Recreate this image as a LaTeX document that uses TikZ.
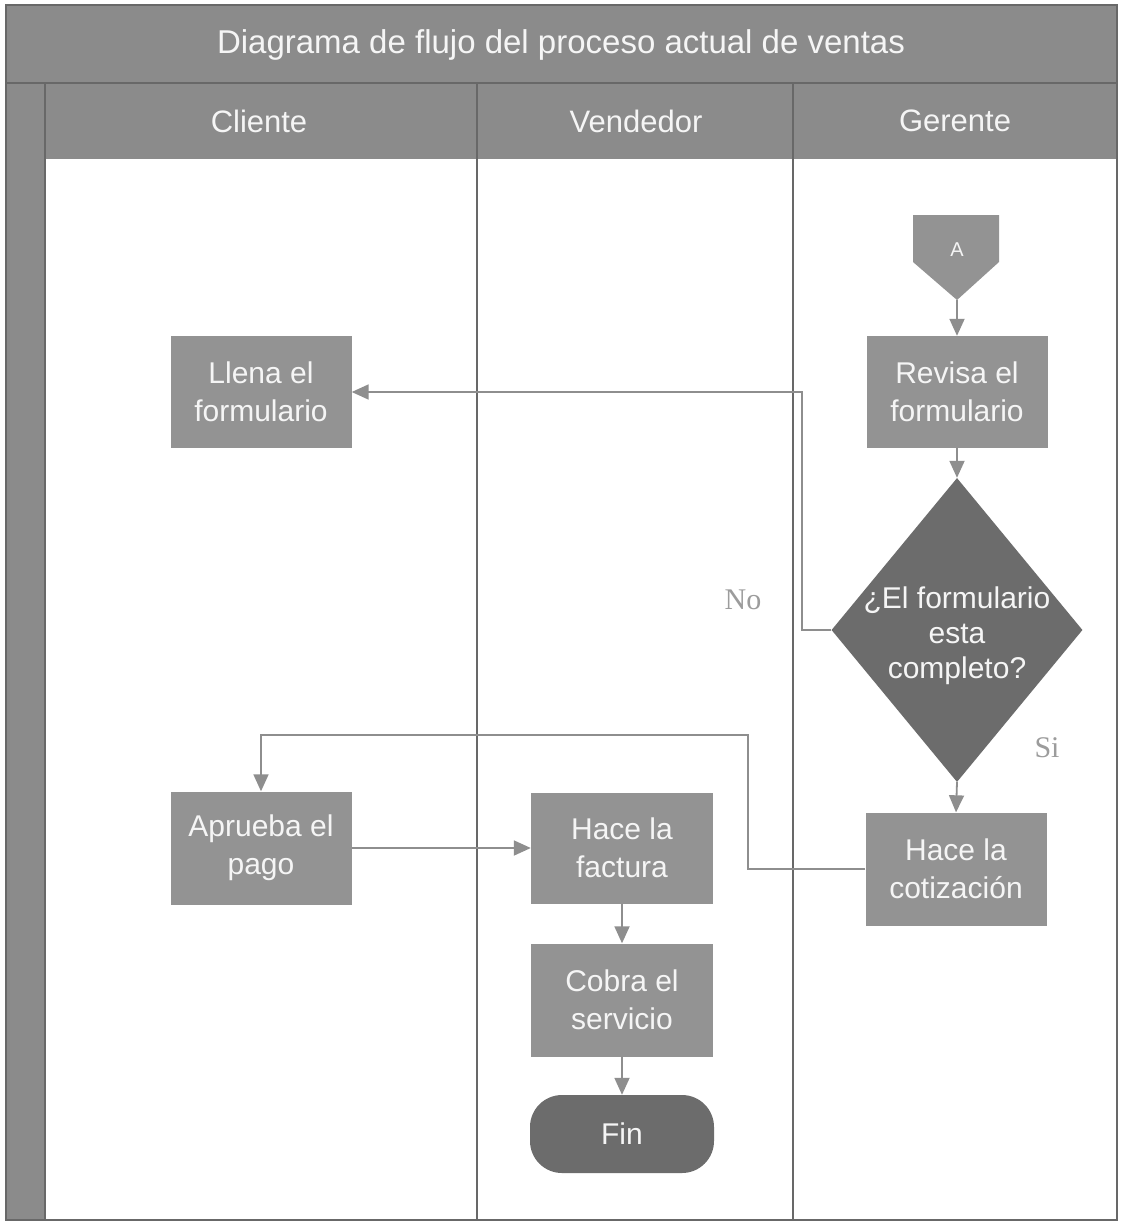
\documentclass[tikz,border=0pt]{standalone}
\usepackage{fontspec}
\setmainfont{Liberation Sans}
\newfontfamily\labelserif{Liberation Serif}
\usetikzlibrary{arrows.meta,shapes.geometric}
\definecolor{bandgray}{HTML}{8B8B8B}
\definecolor{boxgray}{HTML}{939393}
\definecolor{darkgray}{HTML}{6C6C6C}
\definecolor{flowgray}{HTML}{8E8E8E}
\definecolor{rulegray}{HTML}{686868}
\definecolor{labelgray}{HTML}{9C9C9C}
\definecolor{paleText}{HTML}{F5F5F5}
\begin{document}
\begin{tikzpicture}[x=1pt,y=-1pt,
  lanerule/.style={draw=rulegray,line width=1.2pt},
  bandtext/.style={text=paleText,font=\fontsize{31}{36}\selectfont,inner sep=0pt},
  boxtext/.style={text=paleText,align=center,font=\fontsize{30}{38}\selectfont},
  process/.style={rectangle,fill=boxgray,minimum width=181pt,minimum height=112pt,inner sep=0pt,
    boxtext},
  decision/.style={diamond,fill=darkgray,inner sep=0pt},
  terminal/.style={rectangle,rounded corners=32pt,fill=darkgray,minimum width=184pt,
    minimum height=78pt,inner sep=0pt,boxtext},
  branchlabel/.style={text=labelgray,font=\labelserif\fontsize{30}{36}\selectfont,inner sep=0pt},
  flow/.style={draw=flowgray,line width=1.8pt,-{Triangle[width=15pt,length=17pt]}}
]
\useasboundingbox (0,0) rectangle (1120,1226);
\fill[white] (0,0) rectangle (1120,1226);

% title band, lane header band and the left strip
\fill[bandgray] (6,5) rectangle (1117,159);
\fill[bandgray] (6,5) rectangle (45,1220);
\draw[lanerule] (6,83) -- (1117,83);
\draw[lanerule] (45,83) -- (45,1220);
\draw[lanerule] (477,83) -- (477,1220);
\draw[lanerule] (793,83) -- (793,1220);
\draw[lanerule] (6,5) rectangle (1117,1220);

\node[bandtext,font=\fontsize{33}{38}\selectfont] (title) at (561,45) {Diagrama de flujo del proceso actual de ventas};
\node[bandtext] (hCliente) at (259,121) {Cliente};
\node[bandtext] (hVendedor) at (636,121) {Vendedor};
\node[bandtext] (hGerente) at (955,121) {Gerente};

% off-page connector A
\fill[boxgray] (913,215) -- (999,215) -- (999,262) -- (957,300) -- (913,262) -- cycle;
\node[text=paleText,font=\fontsize{20}{24}\selectfont] (conA) at (957,250) {A};
\coordinate (conAtip) at (957,300);

% process steps
\node[process] (revisa) at (957,392) {Revisa el\\formulario};
\node[process] (llena) at (261,392) {Llena el\\formulario};
\node[decision,minimum width=251pt,minimum height=304pt] (dec) at (957,630) {};
\node[boxtext,font=\fontsize{30}{35}\selectfont] (decText) at (957,636) {¿El formulario\\esta\\completo?};
\node[process,minimum height=113pt] (cotiz) at (956,869) {Hace la\\cotización};
\node[process,minimum height=113pt] (aprueba) at (261,848) {Aprueba el\\pago};
\node[process,minimum width=182pt,minimum height=111pt] (factura) at (622,848) {Hace la\\factura};
\node[process,minimum width=182pt,minimum height=113pt] (cobra) at (622,1000) {Cobra el\\servicio};
\node[terminal] (fin) at (622,1134) {Fin};

\node[branchlabel] (lblNo) at (743,600) {No};
\node[branchlabel] (lblSi) at (1047,748) {Si};

% connectors
\draw[flow] (conAtip) -- (revisa.north);
\draw[flow] (revisa.south) -- (dec.north);
\draw[flow] (dec.west) -- ++(-29,0) |- (llena.east);
\draw[flow] (dec.south) -- (cotiz.north);
\draw[flow] (cotiz.west) -- ++(-117,0) -- ++(0,-134) -| (aprueba.north);
\draw[flow] (aprueba.east) -- (factura.west);
\draw[flow] (factura.south) -- (cobra.north);
\draw[flow] (cobra.south) -- (fin.north);
\end{tikzpicture}
\end{document}
